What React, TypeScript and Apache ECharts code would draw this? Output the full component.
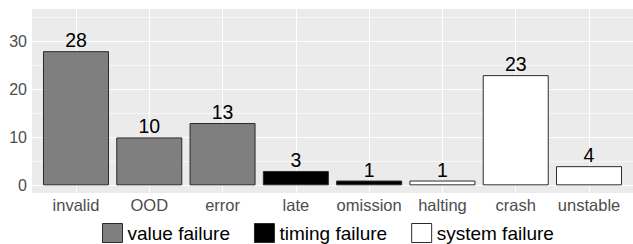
import React, { useEffect, useRef } from "react";
import * as echarts from "echarts";

const categories = ["invalid", "OOD", "error", "late", "omission", "halting", "crash", "unstable"];
const counts = [28, 10, 13, 3, 1, 1, 23, 4];
const groupOf = [0, 0, 0, 1, 1, 2, 2, 2];
const groupNames = ["value failure", "timing failure", "system failure"];
const groupColors = ["#7f7f7f", "#000000", "#ffffff"];
const yTicks = [0, 10, 20, 30];
const yMinor = [5, 15, 25, 35];

export default function App() {
  const ref = useRef<HTMLDivElement>(null);
  useEffect(() => {
    if (!ref.current) return;
    const chart = echarts.init(ref.current, undefined, { renderer: "svg" });
    const font = "Liberation Sans, Arial, sans-serif";
    const barSeries = groupNames.map((name, g) => ({
      name,
      type: "bar",
      z: 3,
      barWidth: 66,
      barGap: "-100%",
      data: counts
        .map((v, i) => (groupOf[i] === g ? [i, v] : null))
        .filter((d) => d !== null),
      itemStyle: { color: groupColors[g], borderColor: "#2b2b2b", borderWidth: 1 },
      label: {
        show: true,
        position: "top",
        distance: 1,
        color: "#000",
        fontSize: 19.5,
        fontFamily: font,
        formatter: (p: any) => String(p.value[1]),
      },
    }));
    const gridSeries = {
      type: "line",
      name: "grid",
      z: 1,
      data: [],
      silent: true,
      markLine: {
        silent: true,
        z: 1,
        symbol: "none",
        label: { show: false },
        animation: false,
        data: [
          ...categories.map((_, i) => ({ xAxis: i, lineStyle: { color: "#fff", width: 1.1, type: "solid" } })),
          ...yTicks.map((v) => ({ yAxis: v, lineStyle: { color: "#fff", width: 1.1, type: "solid" } })),
          ...yMinor.map((v) => ({ yAxis: v, lineStyle: { color: "#fff", width: 0.6, type: "solid" } })),
        ],
      },
    };
    chart.setOption({
      animation: false,
      grid: {
        left: 32,
        top: 9,
        right: -3,
        bottom: 51,
        show: true,
        backgroundColor: "#ebebeb",
        borderWidth: 0,
      },
      xAxis: {
        type: "value",
        min: -0.6,
        max: 7.6,
        axisLine: { show: false },
        splitLine: { show: false },
        axisTick: {
          show: true,
          length: 3,
          lineStyle: { color: "#333" },
          customValues: categories.map((_, i) => i),
        },
        axisLabel: {
          customValues: categories.map((_, i) => i),
          formatter: (v: number) => categories[Math.round(v)] ?? "",
          color: "#4d4d4d",
          fontSize: 16.5,
          fontFamily: font,
          margin: 4,
          lineHeight: 16,
        },
      },
      yAxis: {
        type: "value",
        min: -1.6,
        max: 36.8,
        axisLine: { show: false },
        splitLine: { show: false },
        axisTick: {
          show: true,
          length: 3,
          lineStyle: { color: "#333" },
          customValues: yTicks,
        },
        axisLabel: {
          customValues: yTicks,
          color: "#4d4d4d",
          fontSize: 16,
          fontFamily: font,
          margin: 5,
        },
      },
      legend: {
        left: 102,
        top: 223,
        padding: 0,
        itemWidth: 20,
        itemHeight: 19,
        itemGap: 24,
        icon: "rect",
        textStyle: { fontSize: 19, lineHeight: 19, color: "#000", fontFamily: font },
        data: groupNames.map((n, g) => ({
          name: n,
          itemStyle: { color: groupColors[g], borderColor: "#2b2b2b", borderWidth: 1 },
        })),
        selectedMode: false,
      },
      series: [gridSeries, ...barSeries],
    });
    return () => chart.dispose();
  }, []);
  return (
    <div
      ref={ref}
      style={{ position: "absolute", left: 0, top: 0, width: 633, height: 244, background: "#fff" }}
    />
  );
}
